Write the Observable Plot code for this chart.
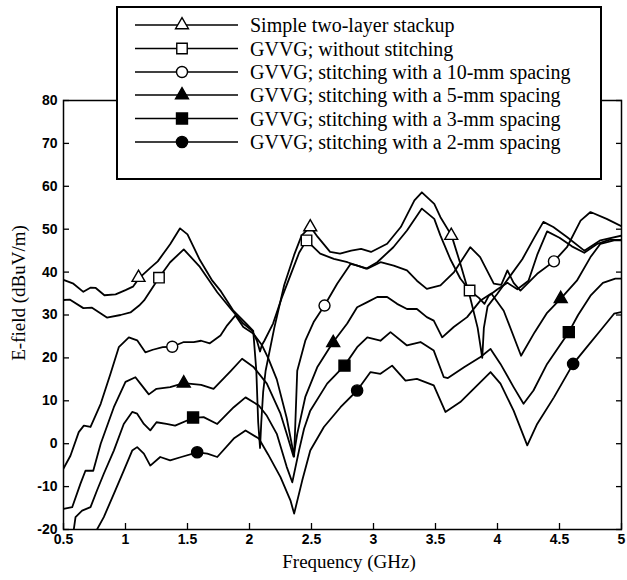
<!DOCTYPE html>
<html><head><meta charset="utf-8">
<script src="https://cdn.jsdelivr.net/npm/d3@7"></script>
<script src="https://cdn.jsdelivr.net/npm/@observablehq/plot@0.6"></script>
<style>
body{margin:0;background:#fff;}
#wrap{position:relative;width:627px;height:580px;overflow:hidden;}
#legend{position:absolute;left:116px;top:6px;}
.serif{font-family:"Liberation Serif","Times New Roman",serif !important;font-weight:normal !important;fill:#000;}
</style></head><body><div id="wrap"></div>
<script>
// ---- data ----
const seriesNames = [
  "Simple two-layer stackup",
  "GVVG; without stitching",
  "GVVG; stitching with a 10-mm spacing",
  "GVVG; stitching with a 5-mm spacing",
  "GVVG; stitching with a 3-mm spacing",
  "GVVG; stitching with a 2-mm spacing"
];
const xTicks = [0.5,1,1.5,2,2.5,3,3.5,4,4.5,5];
const xTickLabels = ["0.5","1","1.5","2","2.5","3","3.5","4","4.5","5"];
const yTicks = [-20,-10,0,10,20,30,40,50,60,70,80];
const yTickLabels = ["-20","-10","0","10","20","30","40","50","60","70","80"];

// Simple two-layer stackup
const xA = [0.50,0.58,0.66,0.72,0.76,0.83,0.92,1.00,1.06,1.11,1.20,1.26,1.36,1.44,1.50,1.60,1.70,1.77,1.87,1.98,2.03,2.055,2.07,2.085,2.095,2.11,2.13,2.20,2.28,2.36,2.42,2.49,2.55,2.65,2.73,2.82,2.90,2.98,3.11,3.22,3.33,3.39,3.49,3.54,3.63,3.70,3.78,3.84,3.877,3.89,3.92,4.00,4.10,4.20,4.30,4.37,4.45,4.56,4.70,4.83,5.00];
const yA = [38.2,37.3,35.4,36.4,36.3,34.6,34.8,35.8,36.6,38.6,41.0,42.5,46.5,50.2,48.8,42.8,38.0,35.5,31.0,27.8,26.3,17,5,-1,5,12,17,27,37,44,48.5,50.6,48.2,44.7,44.3,45.0,45.4,44.7,46.6,50.5,56.7,58.6,55.9,52.8,48.5,42,34,27,20,27,32,35,39,43,48.2,51.7,50.5,48.2,45,47.4,48.5];
// GVVG without stitching
const xB = [0.50,0.55,0.66,0.73,0.85,0.96,1.04,1.11,1.15,1.27,1.36,1.47,1.60,1.74,1.85,1.95,2.02,2.06,2.085,2.10,2.12,2.19,2.26,2.34,2.40,2.46,2.57,2.68,2.79,2.87,2.94,3.03,3.16,3.27,3.39,3.49,3.54,3.62,3.70,3.775,3.85,3.895,3.93,4.00,4.08,4.16,4.25,4.32,4.40,4.50,4.60,4.70,4.80,4.90,5.00];
const yB = [33.5,33.6,31.6,31.7,29.4,30,30.6,32.2,33.4,38.7,42.3,45.3,41.2,35.3,31.4,28,26.4,24,21.5,23,24,28,34,40,44.5,47.4,44.3,43.1,42.3,41.5,40.8,42.3,45.8,49.7,54.8,52.4,48.5,43,38.5,35.7,34,32.6,34.5,36,37.5,36,38,44,49.5,48,46,44.5,46.5,47.5,47.5];
// 10-mm spacing
const xC = [0.50,0.556,0.623,0.664,0.718,0.80,0.879,0.946,1.027,1.094,1.16,1.22,1.30,1.377,1.47,1.55,1.61,1.68,1.766,1.82,1.887,1.95,2.03,2.10,2.15,2.22,2.30,2.34,2.36,2.385,2.45,2.52,2.605,2.707,2.815,2.87,2.95,3.057,3.163,3.27,3.35,3.43,3.54,3.65,3.78,3.86,3.97,4.03,4.08,4.13,4.185,4.32,4.455,4.56,4.67,4.75,4.88,5.00];
const yC = [-5.8,-2.8,2.7,4.2,3.9,9.3,16.3,22.5,24.8,24.1,21.3,21.9,22.5,22.6,23.7,23.7,24,23.4,25.2,27.6,29.9,27.2,25.7,23,20,15,6,0,-3,17,24,28.5,32.2,37.3,41.9,41.5,40.8,42.3,41.5,40.4,38,36.1,36.9,40,45.8,43.5,37.3,37,40.4,37.5,35.7,39.6,42.5,45.8,52,54,52.4,50.7];
// 5-mm spacing
const xT = [0.50,0.57,0.637,0.677,0.74,0.80,0.906,1.00,1.08,1.12,1.188,1.25,1.36,1.47,1.61,1.71,1.85,1.94,2.035,2.14,2.25,2.30,2.355,2.385,2.45,2.546,2.675,2.788,2.868,2.95,3.03,3.11,3.19,3.27,3.35,3.43,3.486,3.554,3.647,3.755,3.863,3.95,4.05,4.19,4.30,4.40,4.51,4.64,4.75,4.83,4.94,5.00];
const yT = [-15.2,-14.8,-9.3,-6.3,-6.3,0,8.5,14.4,15.5,14,11.5,12.8,13.2,14.1,13.7,12.8,17,19.8,17.8,14,7,2.3,-3,2.3,10.9,17.8,23.7,28,31.8,33,34.2,34.2,32.6,31.4,31.4,29.5,28.7,24.8,27.2,29.5,33.4,35,31,20.5,26,30.5,33.8,38,43.5,46.6,47.4,47.4];
// 3-mm spacing
const xS = [0.583,0.597,0.65,0.718,0.77,0.825,0.906,0.986,1.054,1.094,1.148,1.20,1.25,1.33,1.40,1.545,1.63,1.74,1.873,1.968,2.075,2.14,2.22,2.30,2.345,2.40,2.44,2.49,2.626,2.766,2.868,2.95,3.056,3.137,3.27,3.379,3.486,3.567,3.60,3.73,3.863,3.944,4.024,4.13,4.21,4.29,4.40,4.575,4.65,4.75,4.85,4.95,5.00];
const yS = [-20,-17.1,-15.6,-14.8,-10.9,-7,-1.6,4.6,7.4,7,4.6,3.1,5,4.6,4.2,6,6.2,4.6,8.5,10.8,8.9,6.5,2.3,-5.4,-9,-1.5,3.5,7.7,14,18.2,22.5,24.8,24,26,22.9,23.7,21.7,15.5,15.3,17.8,20.2,22.1,18.6,13.2,9.3,12.4,18.6,26,30,34.5,37.5,38.5,38.5];
// 2-mm spacing
const xF = [0.77,0.825,0.906,0.986,1.054,1.094,1.148,1.20,1.28,1.36,1.45,1.578,1.66,1.74,1.873,1.968,2.075,2.15,2.25,2.33,2.36,2.425,2.49,2.60,2.734,2.868,2.976,3.056,3.15,3.258,3.35,3.486,3.58,3.70,3.836,3.944,4.024,4.13,4.24,4.32,4.455,4.61,4.72,4.83,4.94,5.00];
const yF = [-20,-17.1,-11.7,-6.3,-1.6,-0.8,-2.3,-5.1,-3.1,-3.9,-3.1,-2,-2.3,-3.1,1.2,3.1,1.2,-2.5,-7.8,-13.2,-16.3,-8.6,-1.6,3.9,8.5,12.4,16.7,16.3,18.2,14.7,15.1,13.6,7.4,9.7,13.6,16.7,14,7.7,-0.4,4.6,10.8,18.6,22.5,26.4,30.3,30.7];

// marker positions
const mxA = [1.105,2.49,3.627], myA = [38.7,50.5,48.5];
const mxB = [1.27,2.46,3.775],  myB = [38.7,47.4,35.7];
const mxC = [1.377,2.605,4.455], myC = [22.6,32.2,42.5];
const mxT = [1.47,2.675,4.51],  myT = [14.1,23.5,33.8];
const mxS = [1.545,2.766,4.575], myS = [6.1,18.2,26];
const mxF = [1.578,2.868,4.61], myF = [-2,12.4,18.6];

// ---- build tables ----
const curveX = [xA,xB,xC,xT,xS,xF];
const curveY = [yA,yB,yC,yT,yS,yF];
const markX = [mxA,mxB,mxC,mxT,mxS,mxF];
const markY = [myA,myB,myC,myT,myS,myF];
const symbols = ["triangle","square","circle","triangle","square","circle"];
const fills = ["white","white","white","black","black","black"];
const radii = [4.8,5.9,5.5,4.8,6.2,5.6];

const lineRows = [];
curveX.forEach((xs,i)=>xs.forEach((x,j)=>lineRows.push({s:seriesNames[i],x,y:curveY[i][j]})));

const marks = [];
marks.push(Plot.line(lineRows,{x:"x",y:"y",z:"s",stroke:"black",strokeWidth:1.8,clip:true}));
markX.forEach((xs,i)=>{
  const rows = xs.map((x,j)=>({x,y:markY[i][j]}));
  marks.push(Plot.dot(rows,{x:"x",y:"y",symbol:()=>symbols[i],r:radii[i],fill:fills[i],stroke:"black",strokeWidth:1.4}));
});

const plot = Plot.plot({
  width:627, height:580,
  marginTop:100, marginBottom:51, marginLeft:63, marginRight:6,
  style:{fontFamily:"'Liberation Sans', Arial, sans-serif", fontSize:"14px", fontWeight:"bold", color:"black", background:"white"},
  x:{domain:[0.5,5]},
  y:{domain:[-20,80]},
  marks:[
    ...marks,
    Plot.frame({stroke:"black",strokeWidth:1.5}),
    Plot.axisX({ticks:xTicks,tickSize:-6,tickPadding:11,tickFormat:(d)=>xTickLabels[xTicks.indexOf(d)],label:null,strokeWidth:1.3}),
    Plot.axisY({ticks:yTicks,tickSize:-6,tickPadding:12,tickFormat:(d)=>yTickLabels[yTicks.indexOf(d)],label:null,strokeWidth:1.3}),
    Plot.axisY({anchor:"right",ticks:yTicks,tickSize:-6,fill:"none",label:null,strokeWidth:1.3})
  ]
});
const wrap = document.getElementById("wrap");
wrap.appendChild(plot);

// axis titles
const svg = d3.select(plot);
svg.append("text").attr("class","serif").attr("x",349).attr("y",568).attr("text-anchor","middle")
  .attr("font-family","Liberation Serif").attr("font-size",19).attr("font-weight","normal").attr("fill","black")
  .text("Frequency (GHz)");
svg.append("text").attr("class","serif").attr("transform","translate(25,293) rotate(-90)").attr("text-anchor","middle")
  .attr("font-family","Liberation Serif").attr("font-size",19).attr("font-weight","normal").attr("fill","black")
  .text("E-field (dBuV/m)");

// legend overlay
const lw = 486, lh = 174;
const leg = d3.select(wrap).append("svg").attr("id","legend").attr("width",lw).attr("height",lh);
leg.append("rect").attr("x",1).attr("y",1).attr("width",lw-2).attr("height",lh-2).attr("fill","white").attr("stroke","black").attr("stroke-width",2);
const rowY = [19,42.5,66,89,112.5,136];
const symMap = {triangle:d3.symbolTriangle, square:d3.symbolSquare, circle:d3.symbolCircle};
seriesNames.forEach((name,i)=>{
  const y = rowY[i];
  leg.append("line").attr("x1",19).attr("x2",122).attr("y1",y).attr("y2",y).attr("stroke","black").attr("stroke-width",1.7);
  leg.append("path").attr("transform",`translate(66,${y})`)
    .attr("d",d3.symbol(symMap[symbols[i]], Math.PI*radii[i]*radii[i])())
    .attr("fill",fills[i]).attr("stroke","black").attr("stroke-width",1.4);
  leg.append("text").attr("class","serif").attr("x",134).attr("y",y+7)
    .attr("font-size",20)
    .text(name);
});
</script></body></html>
